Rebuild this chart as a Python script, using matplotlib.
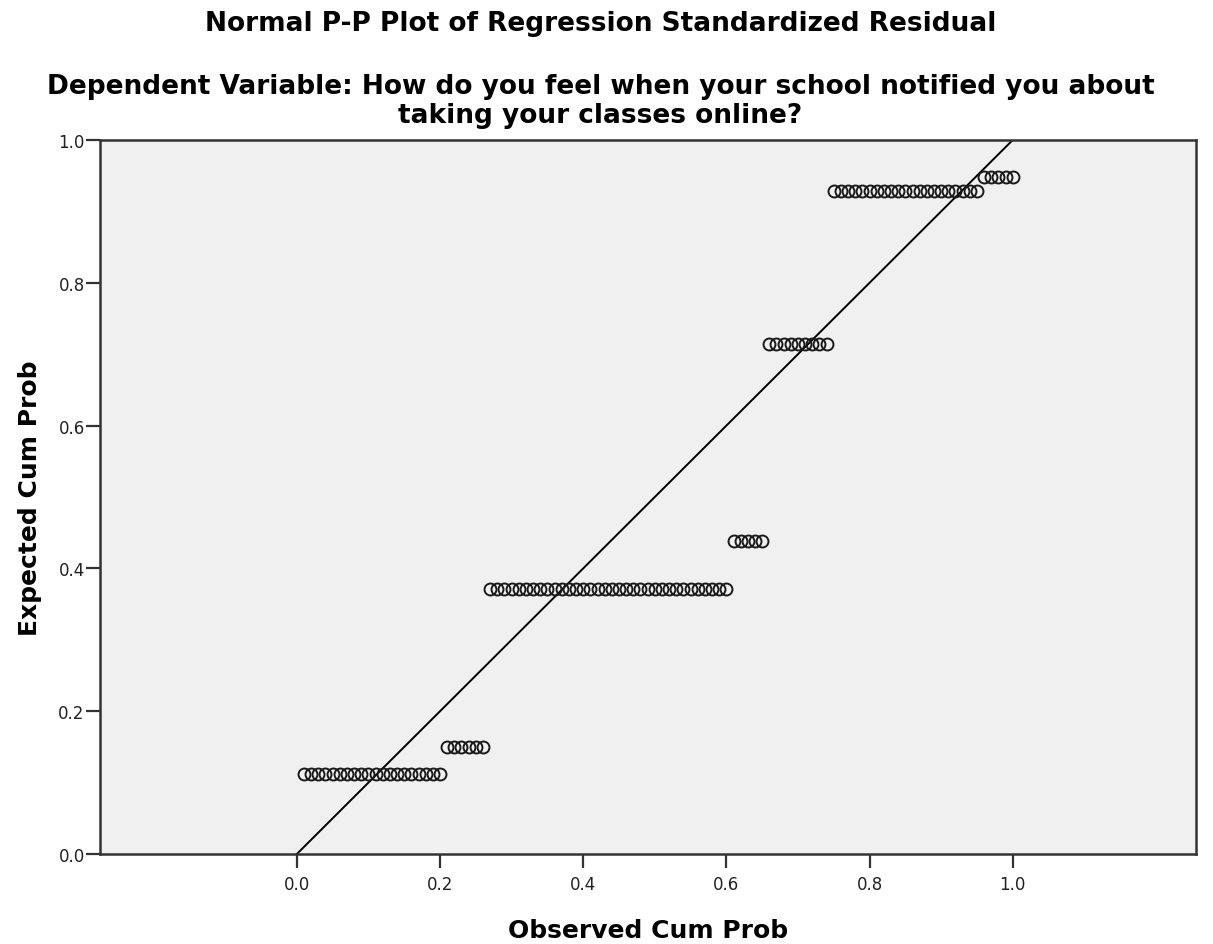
import numpy as np
import matplotlib.pyplot as plt

plt.rcParams['font.family'] = ['DejaVu Sans']

# expected cum prob levels and how many residuals sit on each level
expected_levels = [0.112, 0.150, 0.371, 0.438, 0.714, 0.929, 0.948]
level_counts = [20, 6, 34, 5, 9, 21, 5]
n_obs = 100

expected = np.repeat(expected_levels, level_counts)
observed = np.arange(1, n_obs + 1) / n_obs

x_ticks = [0.0, 0.2, 0.4, 0.6, 0.8, 1.0]
y_ticks = [0.0, 0.2, 0.4, 0.6, 0.8, 1.0]

fig = plt.figure(figsize=(12.13, 9.45), dpi=100)
ax = fig.add_axes([0.0824, 0.0952, 0.9036, 0.7556])
ax.set_facecolor('#f0f0f0')

ax.plot([0, 1], [0, 1], color='black', lw=1.4, zorder=2)
ax.plot(observed, expected, linestyle='none', marker='o', markersize=8.6,
        markerfacecolor='none', markeredgecolor='#1a1a1a', markeredgewidth=1.4, zorder=3)

ax.set_xlim(-0.275, 1.256)
ax.set_ylim(0, 1)
ax.set_xticks(x_ticks)
ax.set_yticks(y_ticks)
ax.set_xticklabels(["%.1f" % v for v in x_ticks])
ax.set_yticklabels(["%.1f" % v for v in y_ticks])
ax.tick_params(axis='both', direction='out', length=10, width=1.6, color='#333333',
               labelsize=12, labelcolor='#222222')
ax.tick_params(axis='x', pad=5)
ax.tick_params(axis='y', pad=1)

for s in ax.spines.values():
    s.set_color('#333333')
    s.set_linewidth(1.8)

ax.set_xlabel('Observed Cum Prob', fontsize=18, fontweight='bold', labelpad=18)
ax.set_ylabel('Expected Cum Prob', fontsize=18, fontweight='bold', labelpad=12)

fig.text(0.495, 0.975, 'Normal P-P Plot of Regression Standardized Residual',
         ha='center', va='center', fontsize=19, fontweight='bold')
fig.text(0.495, 0.893,
         'Dependent Variable: How do you feel when your school notified you about\ntaking your classes online?',
         ha='center', va='center', fontsize=19, fontweight='bold', linespacing=1.15)

fig.savefig('out.png', dpi=100)
